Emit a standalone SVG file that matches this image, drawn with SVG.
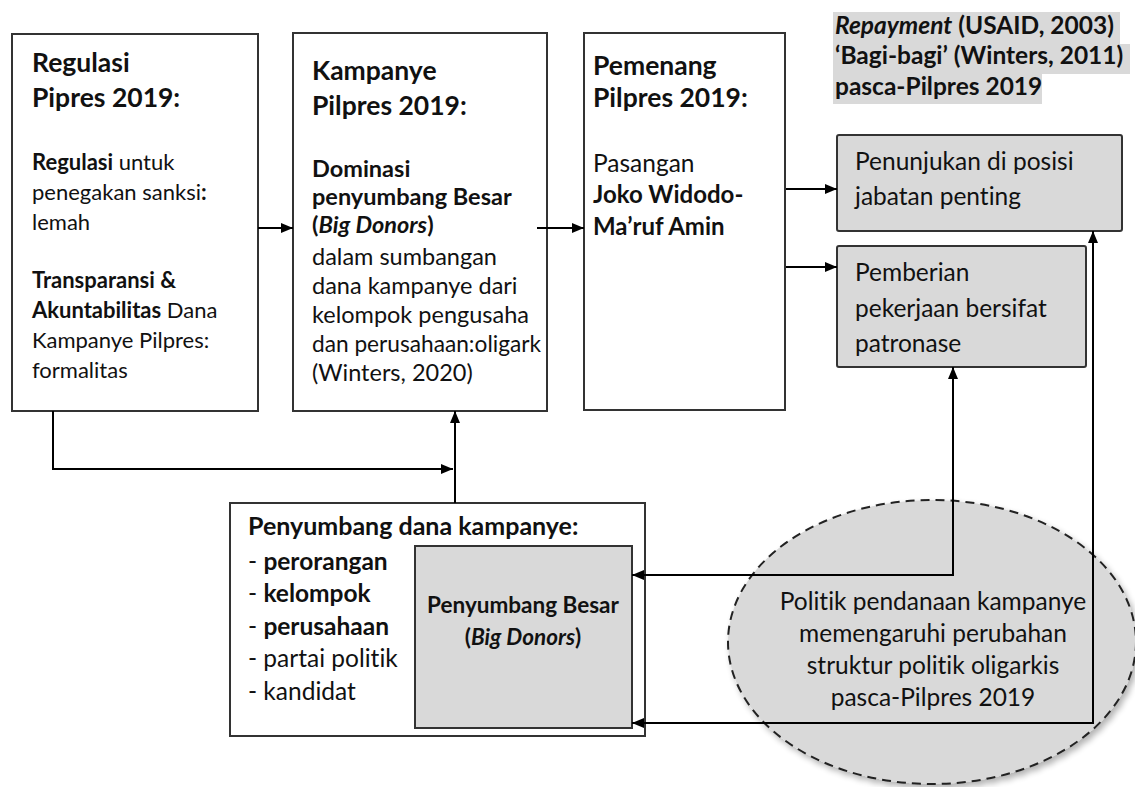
<svg xmlns="http://www.w3.org/2000/svg" width="1135" height="787" viewBox="0 0 1135 787">
<defs>
<marker id="ah" viewBox="0 0 12 10" refX="12" refY="5" markerWidth="12" markerHeight="10" markerUnits="userSpaceOnUse" orient="auto-start-reverse">
<path d="M0,0 L12,5 L0,10 z" fill="#000"/>
</marker>
<filter id="sh" x="-10%" y="-10%" width="125%" height="125%">
<feGaussianBlur in="SourceAlpha" stdDeviation="3"/>
<feOffset dx="3" dy="4" result="b"/>
<feComponentTransfer><feFuncA type="linear" slope="0.3"/></feComponentTransfer>
<feMerge><feMergeNode/><feMergeNode in="SourceGraphic"/></feMerge>
</filter>
</defs>
<style>
text{font-family:Lato,"Liberation Sans",sans-serif;fill:#111;font-variant-ligatures:none;}
.box{fill:#fff;stroke:#333;stroke-width:2;}
.gbox{fill:#d9d9d9;stroke:#333;stroke-width:2;}
.hd{font-size:26.5px;font-weight:bold;}
.bd{font-size:22px;}
.b{font-weight:bold;}
.i{font-style:italic;}
.gt{font-size:24.5px;}
.nt{font-size:24.5px;font-weight:bold;}
.k2{font-size:23.5px;}
.el{font-size:24.5px;}
.conn{fill:none;stroke:#000;stroke-width:2;}
</style>
<rect width="1135" height="787" fill="#fff"/>

<g id="note">
<rect x="833" y="12" width="287" height="32" fill="#d9d9d9"/>
<rect x="833" y="44" width="297" height="30" fill="#d9d9d9"/>
<rect x="833" y="74" width="209" height="30" fill="#d9d9d9"/>
<text x="835" y="34" class="nt"><tspan class="i">Repayment</tspan> (USAID, 2003)</text>
<text x="835" y="64" class="nt">‘Bagi-bagi’ (Winters, 2011)</text>
<text x="835" y="95" class="nt">pasca-Pilpres 2019</text>
</g>

<g id="regulasi">
<rect class="box" x="12" y="34" width="246" height="377"/>
<text x="32" y="72" class="hd">Regulasi</text>
<text x="32" y="107" class="hd">Pipres 2019:</text>
<text x="32" y="170" class="bd"><tspan class="b">Regulasi</tspan> untuk</text>
<text x="32" y="200" class="bd">penegakan sanksi<tspan class="b">:</tspan></text>
<text x="32" y="230" class="bd">lemah</text>
<text x="32" y="288" class="bd b">Transparansi &amp;</text>
<text x="32" y="318" class="bd"><tspan class="b">Akuntabilitas</tspan> Dana</text>
<text x="32" y="348" class="bd">Kampanye Pilpres:</text>
<text x="32" y="378" class="bd">formalitas</text>
</g>

<g id="kampanye">
<rect class="box" x="293" y="33" width="254" height="378"/>
<text x="312" y="80" class="hd">Kampanye</text>
<text x="312" y="115" class="hd">Pilpres 2019:</text>
<text x="312" y="177" class="k2 b">Dominasi</text>
<text x="312" y="205" class="k2 b">penyumbang Besar</text>
<text x="312" y="233" class="k2 b">(<tspan class="i">Big Donors</tspan>)</text>
<text x="312" y="265" class="k2">dalam sumbangan</text>
<text x="312" y="294" class="k2">dana kampanye dari</text>
<text x="312" y="323" class="k2">kelompok pengusaha</text>
<text x="312" y="352" class="k2" textLength="229" lengthAdjust="spacingAndGlyphs">dan perusahaan:oligark</text>
<text x="312" y="381" class="k2">(Winters, 2020)</text>
</g>

<g id="pemenang">
<rect class="box" x="584" y="33" width="201" height="377"/>
<text x="593" y="75" class="hd">Pemenang</text>
<text x="593" y="107" class="hd">Pilpres 2019:</text>
<text x="593" y="172" font-size="24.5">Pasangan</text>
<text x="593" y="203" font-size="24" class="b">Joko Widodo-</text>
<text x="593" y="235" font-size="24" class="b">Ma’ruf Amin</text>
</g>

<g id="penunjukan">
<rect class="gbox" x="837" y="135" width="285" height="96" rx="2"/>
<text x="855" y="170" class="gt">Penunjukan di posisi</text>
<text x="855" y="205" class="gt">jabatan penting</text>
</g>

<g id="pemberian">
<rect class="gbox" x="837" y="246" width="249" height="121" rx="2"/>
<text x="855" y="281" class="gt">Pemberian</text>
<text x="855" y="317" class="gt">pekerjaan bersifat</text>
<text x="855" y="352" class="gt">patronase</text>
</g>

<g id="penyumbang">
<rect class="box" x="230" y="503" width="415" height="233"/>
<text x="248" y="535" font-size="25" class="b">Penyumbang dana kampanye:</text>
<text x="248" y="570" font-size="24.5">- <tspan class="b">perorangan</tspan></text>
<text x="248" y="602" font-size="24.5">- <tspan class="b">kelompok</tspan></text>
<text x="248" y="635" font-size="24.5">- <tspan class="b">perusahaan</tspan></text>
<text x="248" y="667" font-size="24.5">- partai politik</text>
<text x="248" y="700" font-size="24.5">- kandidat</text>
</g>

<g id="big-donors">
<rect class="gbox" x="415" y="546" width="217" height="182"/>
<text x="523" y="613" font-size="22.5" class="b" text-anchor="middle">Penyumbang Besar</text>
<text x="523" y="645" font-size="22.5" class="b" text-anchor="middle">(<tspan class="i">Big Donors</tspan>)</text>
</g>

<g id="politik">
<ellipse cx="932" cy="642" rx="204" ry="142" fill="#d9d9d9" stroke="#222" stroke-width="2" stroke-dasharray="9 6" filter="url(#sh)"/>
<text x="933" y="610" class="el" text-anchor="middle">Politik pendanaan kampanye</text>
<text x="933" y="642" class="el" text-anchor="middle">memengaruhi perubahan</text>
<text x="933" y="674" class="el" text-anchor="middle">struktur politik oligarkis</text>
<text x="933" y="706" class="el" text-anchor="middle">pasca-Pilpres 2019</text>
</g>

<g id="connectors">
<path class="conn" d="M258,228 H293" marker-end="url(#ah)"/>
<path class="conn" d="M537,228 H584" marker-end="url(#ah)"/>
<path class="conn" d="M786,189 H837" marker-end="url(#ah)"/>
<path class="conn" d="M786,267 H837" marker-end="url(#ah)"/>
<path class="conn" d="M53,411 V469 H453" marker-end="url(#ah)"/>
<path class="conn" d="M455,503 V411" marker-end="url(#ah)"/>
<path class="conn" d="M632,575 H953 V367" marker-start="url(#ah)" marker-end="url(#ah)"/>
<path class="conn" d="M632,723 H1093 V231" marker-start="url(#ah)" marker-end="url(#ah)"/>
</g>
</svg>
